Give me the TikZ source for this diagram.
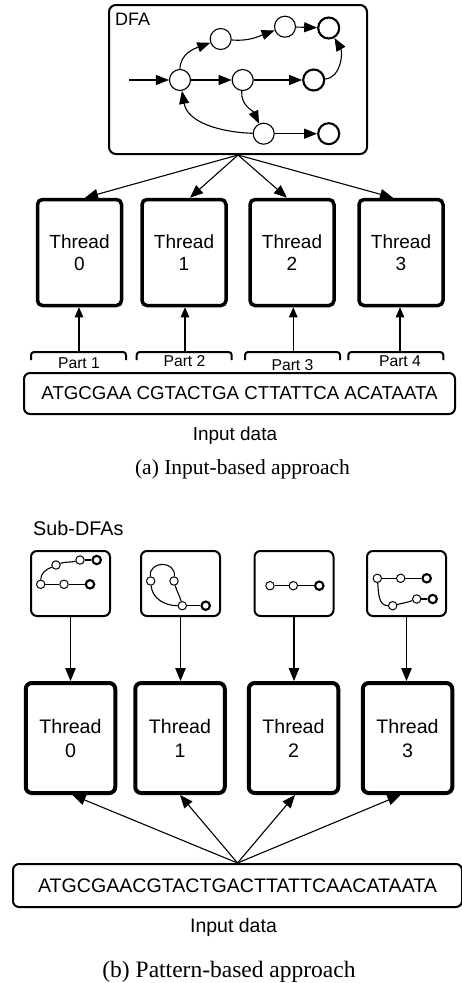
\documentclass[tikz,border=0pt]{standalone}
\usepackage{fontspec}
\setmainfont{Liberation Sans}
\newfontfamily\capfont{Liberation Serif}
\usetikzlibrary{arrows.meta}
\begin{document}
\begin{tikzpicture}[x=1pt,y=-1pt,
  thread/.style={draw, line width=3.5pt, rounded corners=5pt, minimum width=84pt, minimum height=106pt, inner sep=0pt, align=center, font=\fontsize{19}{22}\selectfont},
  bthread/.style={draw, line width=4pt, rounded corners=6pt, minimum width=89.5pt, minimum height=110pt, inner sep=0pt, align=center, font=\fontsize{19.6}{24}\selectfont},
  subbox/.style={draw, line width=2pt, rounded corners=6pt, minimum width=79pt, minimum height=65pt, inner sep=0pt},
  inbox/.style={draw, line width=2pt, rounded corners=6pt, inner sep=0pt},
  state/.style={circle, draw, line width=1.1pt, minimum size=21pt, inner sep=0pt},
  accept/.style={state, line width=2.1pt},
  sst/.style={circle, draw, line width=1pt, minimum size=8.4pt, inner sep=0pt},
  sacc/.style={sst, line width=2.1pt},
  darr/.style={-{Triangle[length=13pt,width=10pt]}, line width=1.1pt},
  arr/.style={-{Triangle[length=13pt,width=10.5pt]}, line width=1.1pt},
  parr/.style={-{Triangle[length=10pt,width=8.5pt]}, line width=1.1pt},
  brace/.style={line width=2pt, rounded corners=3pt},
  sedge/.style={line width=1.1pt}
]
\useasboundingbox (0,0) rectangle (461,983);

% ---------- (a) ----------
\node[inbox, line width=2pt, rounded corners=7pt, minimum width=258pt, minimum height=149pt] (dfa) at (238,79.5) {};
\node[anchor=base west, inner sep=0pt, font=\fontsize{18}{20}\selectfont] (dfalbl) at (115,25) {DFA};

\node[state]  (A) at (180,80) {};
\node[state]  (B) at (220.7,39) {};
\node[state]  (C) at (285,26.7) {};
\node[accept] (D) at (328.7,28) {};
\node[state]  (E) at (242.7,80) {};
\node[accept] (F) at (313.7,80) {};
\node[state]  (G) at (263.7,133.7) {};
\node[accept] (H) at (328.7,133.7) {};
\coordinate (st) at (129,80);

\draw[darr] (st) -- (A);
\draw[darr] (A) to[out=90,in=200] (B);
\draw[darr] (B) to[out=-5,in=200] (C);
\draw[darr] (C) -- (D);
\draw[darr] (F) to[out=5,in=-60] (D);
\draw[darr] (A) -- (E);
\draw[darr] (E) -- (F);
\draw[darr] (E) to[out=-95,in=115] (G);
\draw[darr] (G) to[out=178,in=-80] (A);
\draw[darr] (G) -- (H);

\foreach \i/\x in {0/79.5,1/184,2/292,3/401}
  \node[thread] (t\i) at (\x,252.5) {Thread\\\i};

\draw[arr] (dfa.south) -- ([xshift=5.5pt]t0.north);
\draw[arr] (dfa.south) -- ([xshift=6pt]t1.north);
\draw[arr] (dfa.south) -- ([xshift=-5pt]t2.north);
\draw[arr] (dfa.south) -- ([xshift=-8pt]t3.north);

\draw[brace] (31,360) -- (31,352) -- (126,352) -- (126,360);
\draw[brace] (136.7,360) -- (136.7,352) -- (231.7,352) -- (231.7,360);
\draw[brace] (245,360) -- (245,352) -- (340,352) -- (340,360);
\draw[brace] (348.3,360) -- (348.3,352) -- (443.3,352) -- (443.3,360);
\coordinate (p1) at (79,352);
\coordinate (p2) at (185,352);
\coordinate (p3) at (293.3,352);
\coordinate (p4) at (400,352);
\draw[parr] (p1) -- (p1 |- t0.south);
\draw[parr] (p2) -- (p2 |- t1.south);
\draw[parr] (p3) -- (p3 |- t2.south);
\draw[parr] (p4) -- (p4 |- t3.south);

\node[anchor=base, inner sep=0pt, font=\fontsize{15.7}{18}\selectfont] (l1) at (79,368) {Part 1};
\node[anchor=base, inner sep=0pt, font=\fontsize{15.7}{18}\selectfont] (l2) at (184.5,366.7) {Part 2};
\node[anchor=base, inner sep=0pt, font=\fontsize{15.7}{18}\selectfont] (l3) at (292.5,370) {Part 3};
\node[anchor=base, inner sep=0pt, font=\fontsize{15.7}{18}\selectfont] (l4) at (400,366.7) {Part 4};

\node[inbox, minimum width=431pt, minimum height=41pt, font=\fontsize{18.7}{22}\selectfont] (in1) at (239.5,393.5) {ATGCGAA CGTACTGA CTTATTCA ACATAATA};
\node[anchor=base, inner sep=0pt, font=\fontsize{18.9}{22}\selectfont] (id1) at (235,440) {Input data};
\node[anchor=base, inner sep=0pt, font=\capfont\fontsize{21.5}{24}\selectfont] (cap1) at (242.5,474) {(a) Input-based approach};

% ---------- (b) ----------
\node[anchor=base west, inner sep=0pt, font=\fontsize{19.8}{22}\selectfont] (sublbl) at (33,535) {Sub-DFAs};

\foreach \i/\x in {0/70.5,1/180.5,2/294,3/406.5}
  \node[subbox] (s\i) at (\x,583.5) {};

% sub-DFA 0
\node[sst]  (a0) at (40.7,584.3) {};
\node[sst]  (a1) at (64,584.3) {};
\node[sacc] (a2) at (90,584.3) {};
\node[sst]  (a3) at (56,565) {};
\node[sst]  (a4) at (80,560) {};
\node[sacc] (a5) at (96.7,560) {};
\draw[sedge] (a0) -- (a1);
\draw[sedge] (a1) -- (a2);
\draw[sedge] (a0) to[out=90,in=205] (a3);
\draw[sedge] (a3) to[out=20,in=195] (a4);
\draw[sedge] (a4) -- (a5);

% sub-DFA 1
\node[sst]  (c0) at (150.7,581) {};
\node[sst]  (c1) at (174,581) {};
\node[sst]  (c2) at (182.3,605.7) {};
\node[sacc] (c3) at (205.7,605.7) {};
\draw[sedge] (c0) to[out=95,in=85,looseness=1.7] (c1);
\draw[sedge] (c0) to[out=-85,in=180] (c2);
\draw[sedge] (c1) to[out=-75,in=105] (c2);
\draw[sedge] (c2) -- (c3);

% sub-DFA 2
\node[sst]  (e0) at (270,585.7) {};
\node[sst]  (e1) at (293.3,585.7) {};
\node[sacc] (e2) at (319.3,585.7) {};
\draw[sedge] (e0) -- (e1);
\draw[sedge] (e1) -- (e2);

% sub-DFA 3
\node[sst]  (g0) at (377.3,578.3) {};
\node[sst]  (g1) at (400.7,578.3) {};
\node[sacc] (g2) at (426.7,578.3) {};
\node[sst]  (g3) at (392.7,605.7) {};
\node[sst]  (g4) at (416.7,599) {};
\node[sacc] (g5) at (432.7,599) {};
\draw[sedge] (g0) -- (g1);
\draw[sedge] (g1) -- (g2);
\draw[sedge] (g0) to[out=-85,in=180] (g3);
\draw[sedge] (g3) to[out=15,in=200] (g4);
\draw[sedge] (g4) -- (g5);

\foreach \i/\x in {0/70.5,1/180,2/293.5,3/407.5}
  \node[bthread] (b\i) at (\x,738) {Thread\\\i};

\foreach \i in {0,1,2,3}
  \draw[arr] (s\i.south) -- (s\i.south |- b\i.north);

\node[inbox, minimum width=449pt, minimum height=43pt] (in2) at (237.5,885.5) {};
\node[inner sep=0pt, font=\fontsize{19.6}{22}\selectfont] (in2t) at (237.5,885.5) {ATGCGAACGTACTGACTTATTCAACATAATA};

\draw[arr] (in2.north) -- ([xshift=2pt]b0.south);
\draw[arr] (in2.north) -- (b1.south);
\draw[arr] (in2.north) -- ([xshift=1.5pt]b2.south);
\draw[arr] (in2.north) -- ([xshift=-7pt]b3.south);

\node[anchor=base, inner sep=0pt, font=\fontsize{19.5}{22}\selectfont] (id2) at (233.5,932.5) {Input data};
\node[anchor=base, inner sep=0pt, font=\capfont\fontsize{23.5}{26}\selectfont] (cap2) at (229,977) {(b) Pattern-based approach};
\end{tikzpicture}
\end{document}
